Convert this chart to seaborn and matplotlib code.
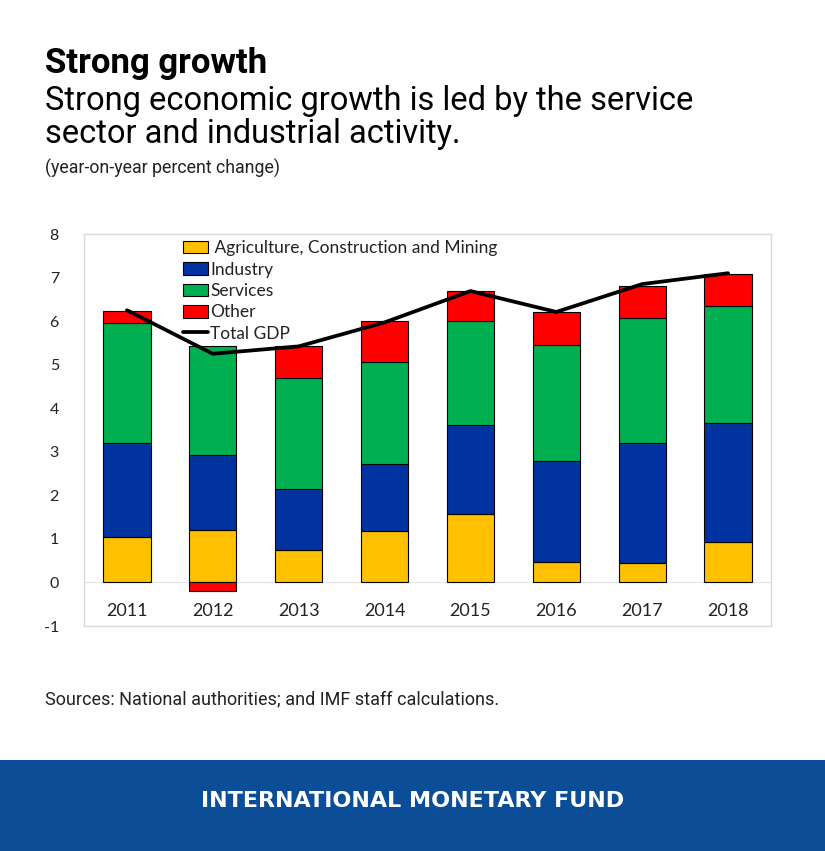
import numpy as np
import pandas as pd
import matplotlib
matplotlib.use("Agg")
import matplotlib.pyplot as plt
import seaborn as sns
from matplotlib.patches import Patch, Rectangle
from matplotlib.lines import Line2D

years = ["2011", "2012", "2013", "2014", "2015", "2016", "2017", "2018"]
agriculture = [1.04, 1.21, 0.75, 1.17, 1.56, 0.46, 0.45, 0.92]
industry = [2.17, 1.71, 1.40, 1.54, 2.05, 2.33, 2.76, 2.73]
services = [2.74, 2.52, 2.54, 2.36, 2.40, 2.66, 2.86, 2.70]
other = [0.29, -0.19, 0.73, 0.93, 0.67, 0.76, 0.73, 0.73]
total_gdp = [6.25, 5.25, 5.42, 5.97, 6.69, 6.21, 6.85, 7.10]
yticks = [-1, 0, 1, 2, 3, 4, 5, 6, 7, 8]

series_names = ["Agriculture, Construction and Mining", "Industry", "Services", "Other"]
series_vals = [agriculture, industry, services, other]
colors = ["#FFC000", "#0033A0", "#00B050", "#FF0000"]

sns.set_theme(style="white")
plt.rcParams["font.family"] = ["Lato", "DejaVu Sans"]

fig = plt.figure(figsize=(8.25, 8.51), dpi=100)
ax = fig.add_axes([84 / 825, 1 - 626 / 851, 687 / 825, 392 / 851])

pos_base = np.zeros(len(years))
neg_base = np.zeros(len(years))
for name, vals, col in zip(series_names, series_vals, colors):
    v = np.array(vals, dtype=float)
    bottoms = np.where(v >= 0, pos_base, neg_base)
    df = pd.DataFrame({"year": years, "value": v})
    sns.barplot(data=df, x="year", y="value", bottom=bottoms, color=col,
                width=0.55, edgecolor="black", linewidth=0.8, saturation=1,
                ax=ax, zorder=2)
    pos_base = pos_base + np.where(v >= 0, v, 0)
    neg_base = neg_base + np.where(v < 0, v, 0)

sns.lineplot(x=np.arange(len(years)), y=total_gdp, color="black",
             linewidth=2.7, ax=ax, zorder=4)

ax.axhline(0, color="#e6e6e6", linewidth=1, zorder=1)
ax.set_xlim(-0.5, 7.5)
ax.set_ylim(-1, 8)
ax.set_yticks(yticks)
ax.set_yticklabels([str(t) for t in yticks], fontsize=11.5, color="#222222")
ax.tick_params(axis="y", length=0, pad=18)
ax.set_xticks([])
ax.set_xlabel("")
ax.set_ylabel("")
for i, y in enumerate(years):
    ax.text(i, -0.65, y, ha="center", va="center", fontsize=13, color="#222222")
for s in ax.spines.values():
    s.set_visible(True)
    s.set_color("#d9d9d9")
    s.set_linewidth(1)

handles = [Patch(facecolor=c, edgecolor="black", linewidth=0.8) for c in colors]
handles.append(Line2D([0], [0], color="black", linewidth=2.7))
labels = [" Agriculture, Construction and Mining", "Industry", "Services", "Other", "Total GDP"]
leg = ax.legend(handles, labels, loc="upper left", bbox_to_anchor=(0.134, 1.002),
                frameon=False, fontsize=12.5, handlelength=1.45, handleheight=0.75,
                handletextpad=0.1, labelspacing=0.31, borderaxespad=0.2, borderpad=0.2)
for t in leg.get_texts():
    t.set_color("#222222")

# Titles
fig.text(45 / 825, 1 - 64 / 851, "Strong growth", fontsize=25, fontweight="bold",
         family=["Roboto", "DejaVu Sans"], va="center", ha="left", color="black")
fig.text(45 / 825, 1 - 101 / 851, "Strong economic growth is led by the service",
         fontsize=23.5, family=["Roboto", "DejaVu Sans"], va="center", ha="left", color="black")
fig.text(45 / 825, 1 - 134 / 851, "sector and industrial activity.",
         fontsize=23.5, family=["Roboto", "DejaVu Sans"], va="center", ha="left", color="black")
fig.text(45 / 825, 1 - 168 / 851, "(year-on-year percent change)",
         fontsize=12.8, family=["Roboto", "DejaVu Sans"], va="center", ha="left", color="#222222")
fig.text(45 / 825, 1 - 699 / 851, "Sources: National authorities; and IMF staff calculations.",
         fontsize=13, family=["Roboto", "DejaVu Sans"], va="center", ha="left", color="#222222")

# Footer band
fig.patches.append(Rectangle((0, 0), 1, 1 - 760 / 851, transform=fig.transFigure,
                             facecolor="#0B4D96", edgecolor="none", zorder=0))
fig.text(0.5, 1 - 801 / 851, "INTERNATIONAL MONETARY FUND", fontsize=16,
         fontweight="bold", family=["DejaVu Sans"], color="white",
         ha="center", va="center")

fig.savefig("out.png", dpi=100)
